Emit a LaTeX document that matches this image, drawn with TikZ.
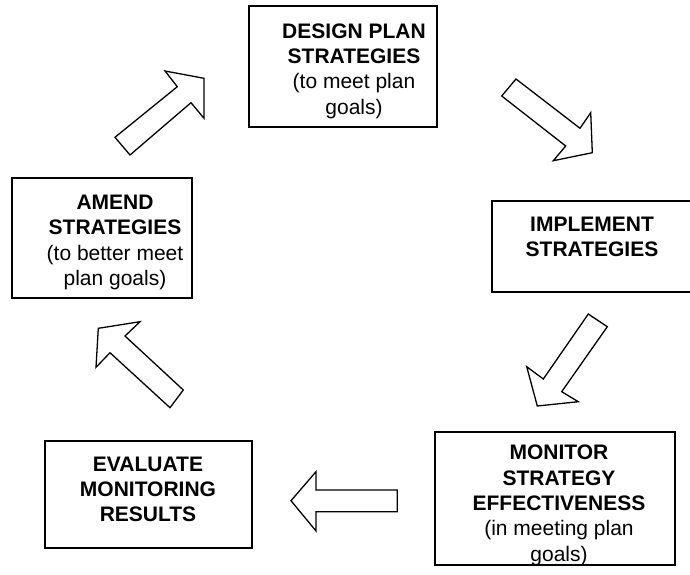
\documentclass[tikz,border=0pt]{standalone}
\usepackage{fontspec}
\setmainfont{Liberation Sans}
\begin{document}
\begin{tikzpicture}[x=1pt,y=-1pt,
  box/.style={draw=black, line width=1.7pt, inner sep=0pt, fill=none},
  txt/.style={align=center, inner sep=0pt, anchor=north, font=\fontsize{21}{25.3}\selectfont},
  blockarrow/.style={draw=black, line width=1.3pt, line join=miter, fill=white}]
\useasboundingbox (0,0) rectangle (690,575);
% boxes
\node[box, minimum width=188pt, minimum height=121pt] (design) at (343,66.5) {};
\node[box, minimum width=180pt, minimum height=120pt] (amend) at (102,238) {};
\node[box, minimum width=210pt, minimum height=91pt] (implement) at (597,246.5) {};
\node[box, minimum width=240pt, minimum height=133pt] (monitor) at (555,498.5) {};
\node[box, minimum width=207pt, minimum height=107pt] (evaluate) at (148.5,494.5) {};
% texts
\node[txt] (designtxt) at (354,23.3) {\textbf{DESIGN PLAN}\\\textbf{STRATEGIES}\\(to meet plan\\goals)};
\node[txt] (amendtxt) at (115,195) {\textbf{AMEND}\\\textbf{STRATEGIES}\\(to better meet\\plan goals)};
\node[txt] (implementtxt) at (592,216.7) {\textbf{IMPLEMENT}\\\textbf{STRATEGIES}};
\node[txt] (monitortxt) at (559,445) {\textbf{MONITOR}\\\textbf{STRATEGY}\\\textbf{EFFECTIVENESS}\\(in meeting plan\\goals)};
\node[txt] (evaluatetxt) at (148,456.7) {\textbf{EVALUATE}\\\textbf{MONITORING}\\\textbf{RESULTS}};
% block arrows
\draw[blockarrow] (115,137.3) -- (177.3,86.7) -- (165,71) -- (204,78.3) -- (204,118.3) -- (191,102.7) -- (130,155) -- cycle;
\draw[blockarrow] (516,79) -- (580,128.3) -- (590.7,112.7) -- (592.3,152.7) -- (553.3,160.7) -- (565.7,146) -- (501.7,96) -- cycle;
\draw[blockarrow] (588.3,314) -- (607.3,326.7) -- (561.7,391.7) -- (578.3,401.7) -- (537.3,406) -- (526.7,366.7) -- (543.3,379) -- cycle;
\draw[blockarrow] (397.3,490) -- (316,490) -- (316,471.7) -- (291,500.7) -- (316,531) -- (316,511.7) -- (397.3,511.7) -- cycle;
\draw[blockarrow] (98.3,328.3) -- (140,321.7) -- (125,336) -- (183.3,390) -- (170,407.7) -- (110,352.7) -- (96,367.3) -- cycle;
\end{tikzpicture}
\end{document}
